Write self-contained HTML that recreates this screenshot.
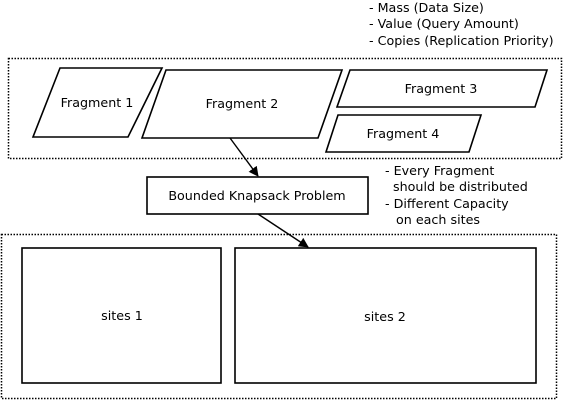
<!DOCTYPE html>
<html><head><style>body{margin:0;background:#fff}</style></head><body>
<svg width="564" height="401" xmlns="http://www.w3.org/2000/svg" font-family="DejaVu Sans, sans-serif" font-size="12">
<defs><marker id="a" markerWidth="10" markerHeight="10" refX="9" refY="5" orient="auto" markerUnits="userSpaceOnUse"><path d="M0,0 L10,5 L0,10 z" fill="#000"/></marker></defs>
<rect x="8.5" y="58.5" width="553" height="100" fill="none" stroke="#000" stroke-width="1.5" stroke-dasharray="1.5,1.5"/>
<rect x="1.5" y="234.5" width="555" height="164" fill="none" stroke="#000" stroke-width="1.5" stroke-dasharray="1.5,1.5"/>
<g fill="#fff" stroke="#000" stroke-width="1.6">
<polygon points="60,68 162,68 128,137 33,137"/>
<polygon points="166,70 342,70 318,138 142,138"/>
<polygon points="350,70 547,70 535,107 337,107"/>
<polygon points="338,115 481,115 469,152 326,152"/>
<rect x="147" y="177" width="221" height="37"/>
<rect x="22" y="248" width="199" height="135"/>
<rect x="235" y="248" width="301" height="135"/>
</g>
<g stroke="#000" stroke-width="1.4">
<line x1="230" y1="138" x2="258" y2="176" marker-end="url(#a)"/>
<line x1="258" y1="214" x2="308" y2="247" marker-end="url(#a)"/>
</g>
<g fill="#000" font-size="12.7">
<text x="369" y="12">- Mass (Data Size)</text>
<text x="369" y="28">- Value (Query Amount)</text>
<text x="369" y="45">- Copies (Replication Priority)</text>
<text x="97" y="107" text-anchor="middle">Fragment 1</text>
<text x="242" y="108" text-anchor="middle">Fragment 2</text>
<text x="441" y="93" text-anchor="middle">Fragment 3</text>
<text x="403" y="138" text-anchor="middle">Fragment 4</text>
<text x="257" y="200" text-anchor="middle">Bounded Knapsack Problem</text>
<text x="385" y="175">- Every Fragment</text>
<text x="393" y="191">should be distributed</text>
<text x="385" y="208">- Different Capacity</text>
<text x="396" y="224">on each sites</text>
<text x="122" y="320" text-anchor="middle">sites 1</text>
<text x="385" y="321" text-anchor="middle">sites 2</text>
</g>
</svg>
</body></html>
